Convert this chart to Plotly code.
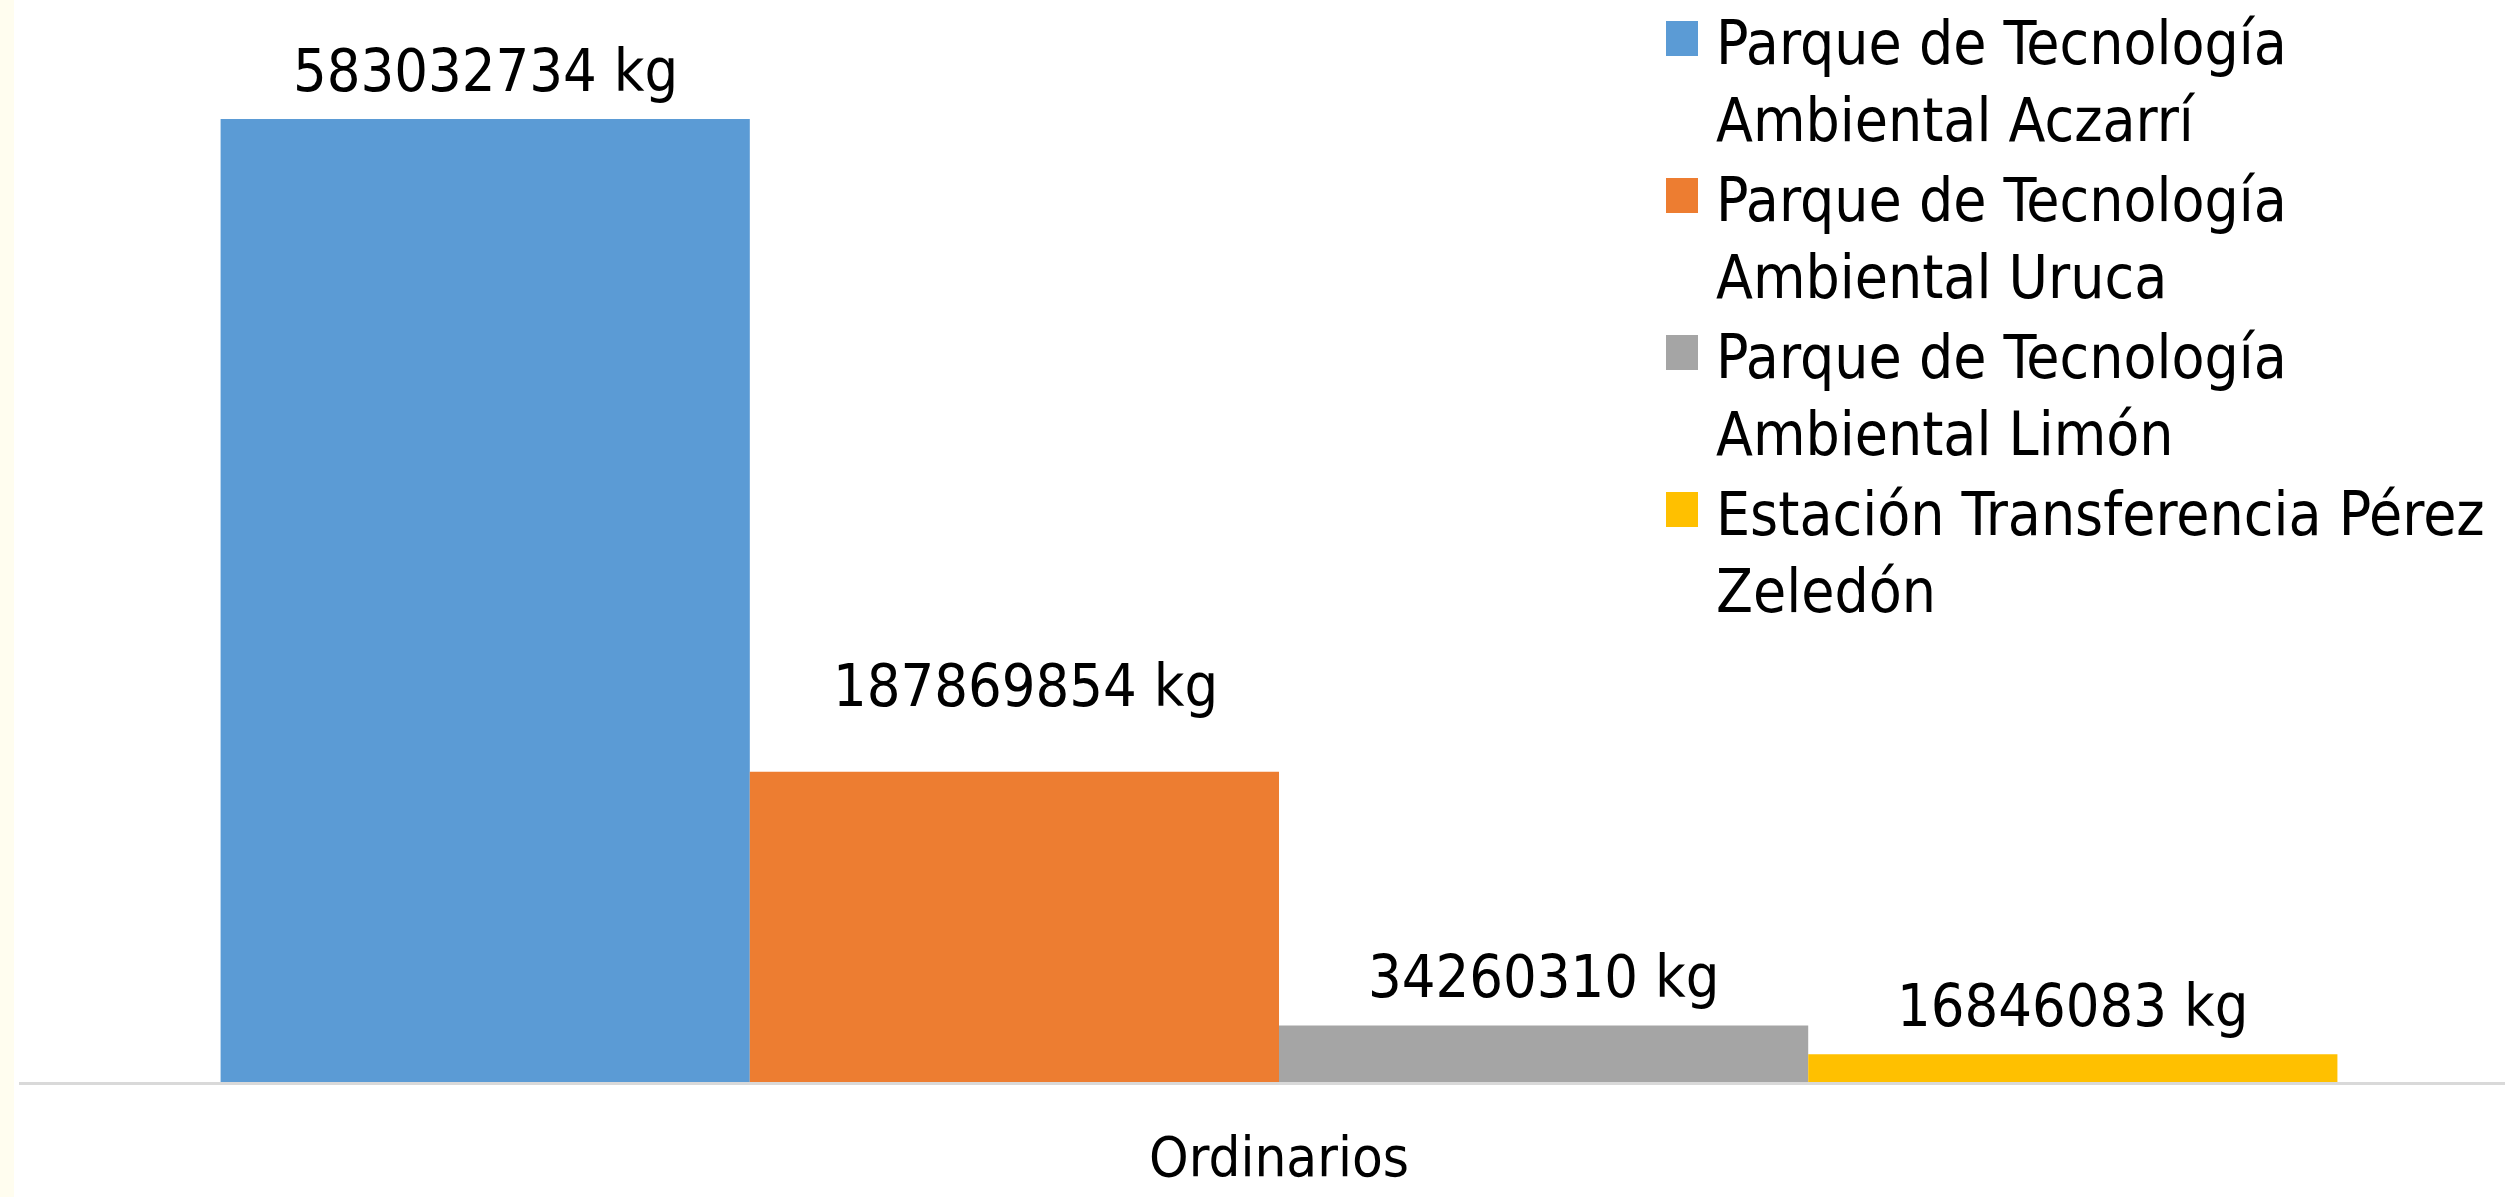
import plotly.graph_objects as go

# ---- data ----
categories = ["Ordinarios"]
series_names = [
    "Parque de Tecnología<br>Ambiental Aczarrí",
    "Parque de Tecnología<br>Ambiental Uruca",
    "Parque de Tecnología<br>Ambiental Limón",
    "Estación Transferencia Pérez<br>Zeledón",
]
series_values = [583032734, 187869854, 34260310, 16846083]
series_colors = ["#5B9BD5", "#ED7D31", "#A5A5A5", "#FFC000"]
value_unit = "kg"

# ---- layout constants (pixels) ----
W, H = 2505, 1197
ML, MB, MT, MR = 19, 115, 0, 0
PW, PH = W - ML - MR, H - MT - MB
FONT = "Liberation Sans Narrow, DejaVu Sans Condensed, Arial Narrow, Lato, sans-serif"
BARGAP = 0.16
# per-label nudges (pixels) for the data labels, as placed in the original
LABEL_XSHIFT = [0, 11, 0, 0]
LABEL_YSHIFT = [12, 50, 12, 12]


def px_x(x):
    return (x - ML) / PW


def px_y(y):
    return (H - MB - y) / PH


fig = go.Figure()
n = len(series_values)
bar_w = (1 - BARGAP) / n
annotations = []
for i, (name, val, col) in enumerate(zip(series_names, series_values, series_colors)):
    fig.add_trace(go.Bar(
        x=categories, y=[val], name=name.replace("<br>", " "),
        marker=dict(color=col, line=dict(width=0)),
        showlegend=False, hovertemplate="%{y} kg<extra>%{fullData.name}</extra>",
    ))
    # data label above each bar, in data coordinates
    annotations.append(dict(
        text=f"{val} {value_unit}", xref="x", yref="y",
        x=-(1 - BARGAP) / 2 + bar_w * (i + 0.5), y=val,
        xanchor="center", yanchor="bottom", showarrow=False,
        xshift=LABEL_XSHIFT[i], yshift=LABEL_YSHIFT[i],
        font=dict(family=FONT, size=59, color="#000000"),
    ))

shapes = [
    # cream strip on the far left
    dict(type="rect", xref="paper", yref="paper", layer="below",
         x0=px_x(0), x1=px_x(14), y0=px_y(H), y1=px_y(0),
         fillcolor="#FFFDEF", line=dict(width=0)),
]
# custom legend
for i, (name, col) in enumerate(zip(series_names, series_colors)):
    top = 21 + 157 * i
    shapes.append(dict(type="rect", xref="paper", yref="paper",
                       x0=px_x(1666), x1=px_x(1698), y0=px_y(top + 35), y1=px_y(top),
                       fillcolor=col, line=dict(width=0)))
    for j, line in enumerate(name.split("<br>")):
        annotations.append(dict(
            text=line, xref="paper", yref="paper",
            x=px_x(1714), y=px_y(43 + 157 * i + 77 * j),
            xanchor="left", yanchor="middle", showarrow=False,
            font=dict(family=FONT, size=60, color="#000000"),
        ))

fig.update_layout(
    width=W, height=H,
    margin=dict(l=ML, r=MR, t=MT, b=MB, pad=0),
    paper_bgcolor="#FFFFFF", plot_bgcolor="#FFFFFF",
    barmode="group", bargap=BARGAP, bargroupgap=0,
    showlegend=False,
    font=dict(family=FONT, color="#000000"),
    shapes=shapes, annotations=annotations,
    xaxis=dict(type="category", range=[-0.5, 0.4865], automargin=False,
               showline=True, linecolor="#D9D9D9", linewidth=3,
               showgrid=False, zeroline=False, ticks="",
               tickfont=dict(family=FONT, size=56, color="#000000"),
               ticklabelstandoff=24),
    yaxis=dict(range=[0, 6.55e8], visible=False, showgrid=False,
               zeroline=False, automargin=False),
)

fig.write_html(
    "out.html",
    config={"displayModeBar": False},
    post_script="document.body.style.margin='0';document.body.style.overflow='hidden';",
)
